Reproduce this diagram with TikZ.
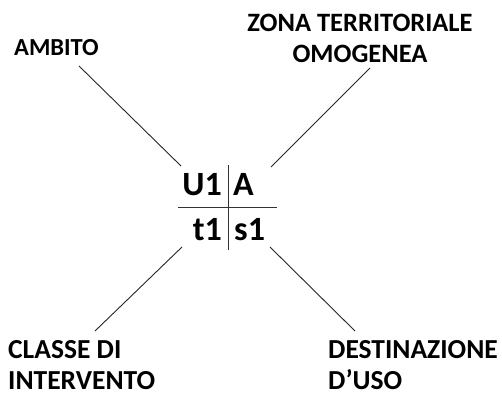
\documentclass[tikz,border=0pt]{standalone}
\usepackage{fontspec}
\setmainfont{Carlito}
\begin{document}
\begin{tikzpicture}[x=1pt,y=-1pt,
  lbl/.style={inner sep=0pt,font=\bfseries\fontsize{26.5}{32}\selectfont},
  lblb/.style={inner sep=0pt,text depth=0pt,font=\bfseries\fontsize{27.5}{33}\selectfont},
  big/.style={inner sep=0pt,font=\bfseries\fontsize{34}{40}\selectfont},
  conn/.style={draw=black!85,line width=0.9pt},
  grid/.style={draw=black!80,line width=0.9pt}]
\useasboundingbox[fill=white] (0,0) rectangle (502,396);
% labels
\node[lbl,anchor=base west,font=\bfseries\fontsize{24.5}{30}\selectfont] (ambito) at (14,56) {AMBITO};
\node[lbl,anchor=base] (zona1) at (360,31) {ZONA TERRITORIALE};
\node[lbl,anchor=base] (zona2) at (360,63) {OMOGENEA};
\node[lblb,anchor=base west] (classe1) at (8,358) {CLASSE DI};
\node[lblb,anchor=base west] (classe2) at (8,389) {INTERVENTO};
\node[lblb,anchor=base west] (dest1) at (328,358) {DESTINAZIONE};
\node[lblb,anchor=base west] (dest2) at (328,389) {D’USO};
% center
\node[big,anchor=base east] (u1) at (222,195) {U1};
\node[big,anchor=base west] (a) at (233,195) {A};
\node[big,anchor=base east] (t1) at (222,240) {t1};
\node[big,anchor=base west] (s1) at (234,240) {s1};
\coordinate (vtop) at (228,165);
\coordinate (vbot) at (228,250);
\coordinate (hl) at (178,207);
\coordinate (hr) at (277,207);
\draw[grid] (vtop) -- (vbot);
\draw[grid] (hl) -- (hr);
% connectors
\coordinate (ambS) at (79,66);
\coordinate (ambE) at (181,166);
\coordinate (zonS) at (370,68);
\coordinate (zonE) at (271,167);
\coordinate (claS) at (95,331);
\coordinate (claE) at (182,247);
\coordinate (desS) at (355,331);
\coordinate (desE) at (270,247);
\draw[conn] (ambS) -- (ambE);
\draw[conn] (zonS) -- (zonE);
\draw[conn] (claS) -- (claE);
\draw[conn] (desS) -- (desE);
\end{tikzpicture}
\end{document}
